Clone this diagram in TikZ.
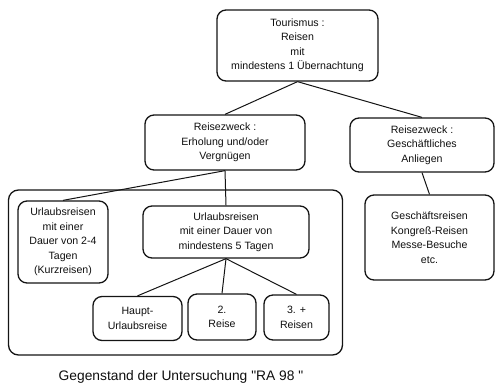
\documentclass[tikz,border=0pt]{standalone}
\usepackage{fontspec}
\setsansfont{Liberation Sans}

\definecolor{tourLine}{RGB}{20,20,20}
\definecolor{tourText}{RGB}{15,15,15}

\begin{document}
\begin{tikzpicture}[x=1pt,y=-1pt,
      topic/.style={draw=tourLine, line width=1.3pt, rounded corners=9pt,
        align=center, inner sep=2pt, text=tourText,
        font=\fontsize{10.6}{14.5}\selectfont\sffamily},
      group/.style={draw=tourLine, line width=1.3pt, rounded corners=10pt,
        inner sep=0pt},
      link/.style={draw=tourLine, line width=1pt},
      caption/.style={font=\fontsize{13.8}{16}\selectfont\sffamily,
        text=tourText}]
      \useasboundingbox (0,0) rectangle (497,389);

      \node[group, minimum width=334pt, minimum height=165pt] (urlaub)
        at (175.5,272.5) {};

      \node[topic, minimum width=161pt, minimum height=71pt] (tour)
        at (297.5,45.5) {Tourismus :\\Reisen\\mit\\mindestens 1 Übernachtung};
      \node[topic, minimum width=160pt, minimum height=55pt] (erh)
        at (225,142.5) {Reisezweck :\\Erholung und/oder\\Vergnügen};
      \node[topic, minimum width=144pt, minimum height=54pt] (ges)
        at (422,145) {Reisezweck :\\Geschäftliches\\Anliegen};
      \node[topic, minimum width=129pt, minimum height=85pt] (gesr)
        at (429.5,237.5) {Geschäftsreisen\\Kongreß-Reisen\\Messe-Besuche\\etc.};

      \node[topic, minimum width=90pt, minimum height=82pt] (kurz)
        at (63,242) {Urlaubsreisen\\mit einer\\Dauer von 2-4\\Tagen\\(Kurzreisen)};
      \node[topic, minimum width=166pt, minimum height=52pt] (lang)
        at (226,232) {Urlaubsreisen\\mit einer Dauer von\\mindestens 5 Tagen};

      \node[topic, minimum width=89pt, minimum height=44pt] (haupt)
        at (137.5,318.5) {Haupt-\\Urlaubsreise};
      \node[topic, minimum width=68pt, minimum height=46pt] (zwei)
        at (222,317) {2.\\Reise};
      \node[topic, minimum width=65pt, minimum height=45pt] (drei)
        at (296.5,317.5) {3. +\\Reisen};

      \draw[link] (tour.south) -- (erh.north);
      \draw[link] (tour.south) -- (ges.north);
      \draw[link] (erh.south) -- (kurz.north);
      \draw[link] (erh.south) -- (lang.north);
      \draw[link] (ges.south) -- (gesr.north);
      \draw[link] (lang.south) -- (haupt.north);
      \draw[link] (lang.south) -- (zwei.north);
      \draw[link] (lang.south) -- (drei.north);

      \node[caption] (titel) at (181,377)
        {Gegenstand der Untersuchung \textquotedbl RA 98 \textquotedbl};
    \end{tikzpicture}
\end{document}
